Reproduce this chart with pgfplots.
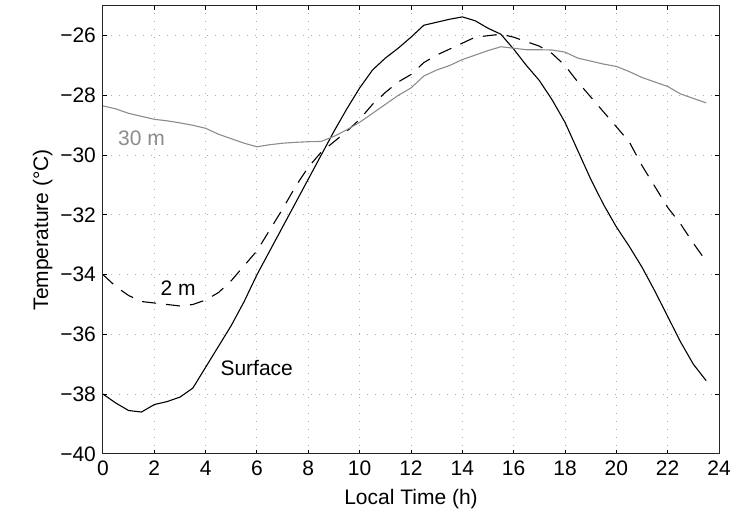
\documentclass[border=0pt]{standalone}
\usepackage{fontspec}
\setmainfont{Liberation Sans}
\usepackage{pgfplots}
\pgfplotsset{compat=1.18}

% Diurnal temperature cycle at three levels
\pgfplotstableread{
t    surf    twom    thirty
0.0  -38.00  -34.00  -28.35
0.5  -38.30  -34.40  -28.45
1.0  -38.55  -34.70  -28.60
1.5  -38.60  -34.90  -28.70
2.0  -38.35  -34.95  -28.80
2.5  -38.25  -35.00  -28.85
3.0  -38.10  -35.05  -28.92
3.5  -37.80  -35.00  -29.00
4.0  -37.10  -34.85  -29.10
4.5  -36.40  -34.60  -29.30
5.0  -35.70  -34.20  -29.45
5.5  -34.90  -33.70  -29.60
6.0  -34.00  -33.20  -29.72
6.5  -33.20  -32.50  -29.65
7.0  -32.40  -31.80  -29.60
7.5  -31.60  -31.05  -29.57
8.0  -30.80  -30.40  -29.55
8.5  -30.00  -29.90  -29.54
9.0  -29.20  -29.55  -29.37
9.5  -28.45  -29.20  -29.15
10.0 -27.75  -28.80  -28.90
10.5 -27.15  -28.30  -28.60
11.0 -26.75  -27.90  -28.30
11.5 -26.42  -27.55  -28.00
12.0 -26.05  -27.30  -27.75
12.5 -25.65  -26.90  -27.35
13.0 -25.55  -26.65  -27.15
13.5 -25.45  -26.45  -27.00
14.0 -25.37  -26.25  -26.80
14.5 -25.50  -26.05  -26.65
15.0 -25.75  -26.00  -26.50
15.5 -25.95  -25.95  -26.37
16.0 -26.45  -26.05  -26.42
16.5 -27.00  -26.20  -26.47
17.0 -27.50  -26.35  -26.47
17.5 -28.15  -26.60  -26.48
18.0 -28.90  -27.00  -26.55
18.5 -29.85  -27.55  -26.75
19.0 -30.80  -28.05  -26.85
19.5 -31.65  -28.55  -26.95
20.0 -32.40  -29.05  -27.03
20.5 -33.05  -29.55  -27.20
21.0 -33.75  -30.35  -27.40
21.5 -34.55  -31.05  -27.55
22.0 -35.40  -31.75  -27.70
22.5 -36.25  -32.30  -27.95
23.0 -37.00  -32.95  -28.10
23.5 -37.55  -33.55  -28.25
}\temps

\definecolor{deepgray}{gray}{0.55}

\begin{document}
\begin{tikzpicture}
\begin{axis}[
  scale only axis,
  width=308pt, height=224pt,
  xmin=0, xmax=24, ymin=-40, ymax=-25,
  xtick={0,2,...,24},
  ytick={-40,-38,...,-26},
  yticklabels={−40,−38,−36,−34,−32,−30,−28,−26},
  /pgf/number format/assume math mode=true,
  tick align=inside,
  major tick length=2pt,
  tick style={black, line width=0.5pt},
  axis line style={black!85, line width=0.5pt},
  grid=major,
  major grid style={line width=0.5pt, gray!65, dash pattern=on 0.5pt off 3.5pt},
  font=\fontsize{10.5}{12}\selectfont,
  ticklabel style={font=\fontsize{10.5}{12}\selectfont},
  xlabel={Local Time (h)},
  ylabel={Temperature (°C)},
  xlabel style={yshift=0pt},
  ylabel style={yshift=-3pt},
  clip=false,
]
\addplot[black, line width=0.55pt] table[x=t, y=surf] {\temps};
\addplot[black, line width=0.55pt, dash pattern=on 7pt off 5pt] table[x=t, y=twom] {\temps};
\addplot[deepgray, line width=0.55pt] table[x=t, y=thirty] {\temps};

\node[deepgray, font=\fontsize{10.5}{12}\selectfont] at (axis cs:1.5,-29.43) {30 m};
\node[font=\fontsize{10.5}{12}\selectfont] at (axis cs:2.93,-34.45) {2 m};
\node[font=\fontsize{10.5}{12}\selectfont] at (axis cs:5.99,-37.13) {Surface};

\coordinate (bl) at (axis cs:-4.013,-42.176);
\coordinate (tr) at (axis cs:25.13,-24.805);
\end{axis}
\pgfresetboundingbox
\path (bl) rectangle (tr);
\end{tikzpicture}
\end{document}
